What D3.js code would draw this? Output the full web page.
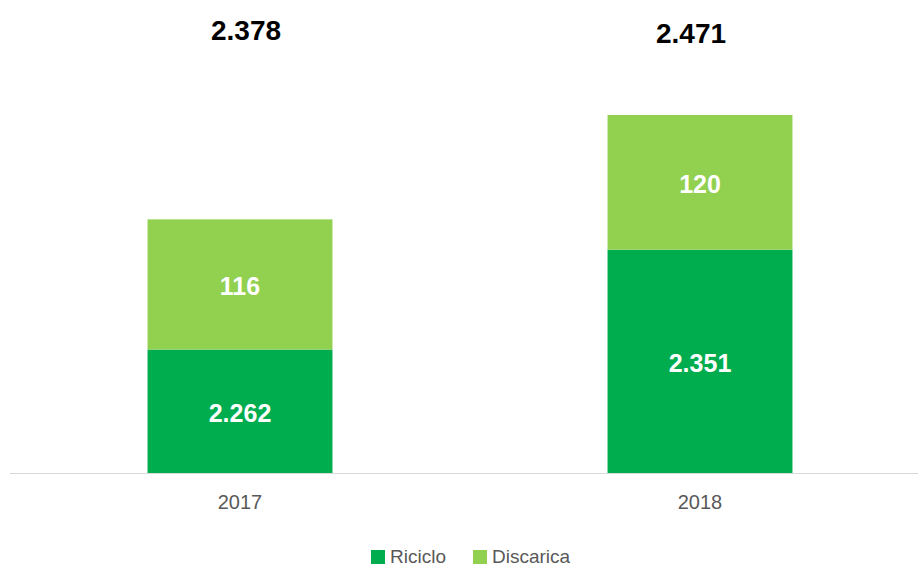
<!DOCTYPE html>
<html>
<head>
<meta charset="utf-8">
<script src="https://cdn.jsdelivr.net/npm/d3@7"></script>
<style>
html,body{margin:0;padding:0;background:#fff;}
svg{display:block;}
</style>
</head>
<body>
<svg id="chart" width="918" height="568"></svg>
<script>
const categories = ["2017", "2018"];
const riciclo = [2262, 2351];
const discarica = [116, 120];
const totals = [2378, 2471];
const seriesNames = ["Riciclo", "Discarica"];
const seriesColors = ["#00AD4E", "#92D050"];

const fmt = v => d3.format(",")(v).replace(/,/g, ".");

const svg = d3.select("#chart");
const W = 918, H = 568;
const baseY = 473, topY = 60;

const x = d3.scaleBand().domain(categories).range([10, 930])
  .paddingInner(0.598).paddingOuter(0.299);
const y = d3.scaleLinear().domain([2152, 2520]).range([baseY, topY]);

const rows = categories.map((c, i) => ({cat: c, Riciclo: riciclo[i], Discarica: discarica[i]}));
const stacked = d3.stack().keys(seriesNames)(rows);

const font = "'Liberation Sans', Arial, sans-serif";

stacked.forEach((layer, li) => {
  const g = svg.append("g");
  g.selectAll("rect").data(layer).join("rect")
    .attr("x", d => x(d.data.cat))
    .attr("width", x.bandwidth())
    .attr("y", d => y(d[1]))
    .attr("height", d => y(li === 0 ? y.domain()[0] : d[0]) - y(d[1]))
    .attr("fill", seriesColors[li]);
  g.selectAll("text").data(layer).join("text")
    .attr("x", d => x(d.data.cat) + x.bandwidth() / 2)
    .attr("y", d => (y(li === 0 ? y.domain()[0] : d[0]) + y(d[1])) / 2)
    .attr("dy", "0.42em")
    .attr("text-anchor", "middle")
    .attr("fill", "#fff")
    .attr("font-family", font)
    .attr("font-weight", "bold")
    .attr("font-size", 25)
    .text(d => fmt(d.data[layer.key]));
});

// axis
const xAxis = d3.axisBottom(x).tickSize(0).tickPadding(22);
const ax = svg.append("g").attr("transform", `translate(0,${baseY})`).call(xAxis);
ax.select(".domain").remove();
ax.selectAll("text").attr("font-family", font).attr("font-size", 20).attr("fill", "#595959").attr("dy", "0.71em");
svg.append("line").attr("x1", 10).attr("x2", W).attr("y1", baseY + 0.5).attr("y2", baseY + 0.5)
  .attr("stroke", "#d9d9d9").attr("stroke-width", 1);

// totals
const totalY = [40, 43];
svg.append("g").selectAll("text").data(categories).join("text")
  .attr("x", d => x(d) + x.bandwidth() / 2 + (d === "2017" ? 6 : -9))
  .attr("y", (d, i) => totalY[i])
  .attr("text-anchor", "middle")
  .attr("font-family", font)
  .attr("font-weight", "bold")
  .attr("font-size", 28)
  .attr("fill", "#000")
  .text((d, i) => fmt(totals[i]));

// legend
const legendX = [371, 473];
const lg = svg.append("g");
seriesNames.forEach((n, i) => {
  lg.append("rect").attr("x", legendX[i]).attr("y", 550).attr("width", 14).attr("height", 14).attr("fill", seriesColors[i]);
  lg.append("text").attr("x", legendX[i] + 19).attr("y", 563)
    .attr("font-family", font).attr("font-size", 19).attr("fill", "#595959").text(n);
});
</script>
</body>
</html>
